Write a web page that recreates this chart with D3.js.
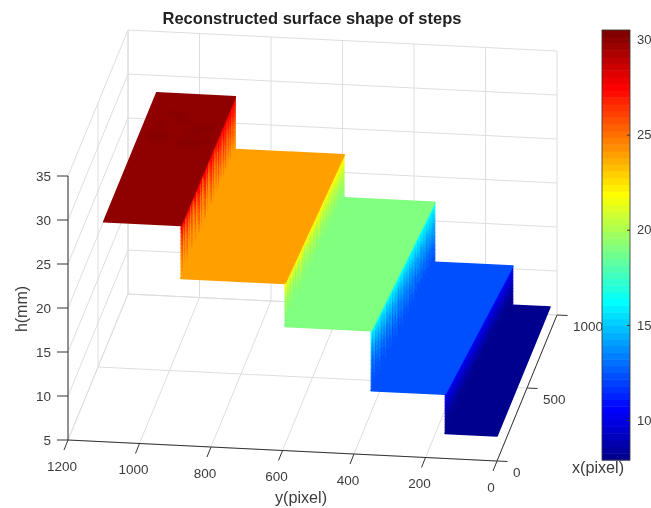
<!DOCTYPE html>
<html><head><meta charset="utf-8">
<script src="https://cdn.jsdelivr.net/npm/d3@7"></script>
<style>html,body{margin:0;background:#fff}svg{display:block}text{font-family:"Liberation Sans",Arial,sans-serif}</style>
</head><body><svg id="c" width="651" height="508"></svg>
<script>
const yTicks=[0,200,400,600,800,1000,1200];
const xTicks=[0,500,1000];
const zTicks=[5,10,15,20,25,30,35];
const cbTicks=[10,15,20,25,30];
const cbDomain=[7.9,30.5];
const stepStart=[1100,884,593,352,145];
const stepEnd=[884,593,352,145,0];
const stepEndBack=[880,576,322,104,0];
const stepStartBack=[1100,880,576,322,104];
const stepHeight=[30,24,19.1,12.3,7.85];
const surfaceXMax=883;
// colour value reached at the top of each riser
const riserPeak=[28,22.2,16.4,10.6];
// how long each riser column stays near the lower colour, read along x (front to back)
const riserSpikes=[
 [3,1.2,5,1.6,7,1,4,2,6,1.1,8,2.5,1.2,5,1.6,.8,4,1.2,7,1.6,.8,3.4,1.4,6,1.8,.8,2.6,1.1,5,1,3.4,.8,2,1,3.4,.9,1.8,.8,2.6,1,1.6,.9,2,1,1.8],
 [3.5,1.6,4.5,2,5.5,1.5,4,2.4,5,1.6,5.5,2,1.5,4.4,1.8,5,1.5,3.6,1.7,4.4,1.8,1.5,3.6,1.6,4,1.7,1.4,3.2,1.6,3.6,1.5,3,1.5,3,1.4,2.6,1.4,2.8,1.5,2.4,1.4,2.3,1.4,2.2,1.5],
 [1.6,2.8,1.4,3.2,1.8,2.6,1.3,3,1.8,2.4,1.3,2.8,1.6,2.4,1.2,2.8,1.5,2.2,1.2,2.6,1.6,2.1,1.3,2.4,1.6,2,1.3,2.3,1.5,2,1.3,2.2,1.5,1.9,1.4,2.1,1.5,1.8,1.4,2,1.5,1.8,1.4,1.8,1.5],
 [1.6,1.8,1.5,1.8,1.6,1.9,1.5,1.7,1.6,1.8,1.5,1.7,1.6,1.8,1.5,1.7,1.6,1.8,1.5,1.7,1.6,1.8,1.5,1.7,1.6,1.8,1.5,1.7,1.6,1.8,1.5,1.7,1.6,1.8,1.5,1.7,1.6,1.8,1.5,1.7,1.6,1.8,1.5,1.7,1.6]
];
// darker blotches on the top step: [yFrom,yTo,xFrom,xTo,h]
const topPatches=[
 [1075,1020,560,620,30.4],[1010,985,690,740,30.4],[1040,1000,730,760,30.4],[990,930,530,590,30.4],
 [975,930,610,640,30.4],[960,905,640,680,30.4],[1060,1040,640,700,30.4],[930,900,560,600,30.4]
];

const svg=d3.select("#c");
const defs=svg.append("defs");
defs.append("filter").attr("id","soft").attr("x","-5%").attr("y","-5%").attr("width","110%").attr("height","110%")
  .append("feGaussianBlur").attr("stdDeviation",0.55);
defs.append("filter").attr("id","softer").attr("x","-20%").attr("y","-20%").attr("width","140%").attr("height","140%")
  .append("feGaussianBlur").attr("stdDeviation",1.3);
const root=svg.append("g").attr("filter","url(#soft)");

// oblique projection built from linear scales
const ox=d3.scaleLinear().domain([0,1200]).range([497,68]);
const oyY=d3.scaleLinear().domain([0,1200]).range([0,-21]);
const px=d3.scaleLinear().domain([0,1000]).range([0,60]);
const pyX=d3.scaleLinear().domain([0,1000]).range([0,-146]);
const pz=d3.scaleLinear().domain([5,35]).range([461,197]);
const P=(y,x,z)=>[ox(y)+px(x),pz(z)+oyY(y)+pyX(x)];
const line=d3.line();
const grid="#dedede",axisCol="#333",txt="#3c3c3c";

function seg(p,q,c,w){root.append("path").attr("d",line([p,q])).attr("stroke",c).attr("stroke-width",w).attr("fill","none");}

// grid: floor, back wall, side wall
yTicks.forEach(y=>{seg(P(y,0,5),P(y,1000,5),grid,1);seg(P(y,1000,5),P(y,1000,35),grid,1);});
xTicks.forEach(x=>{seg(P(0,x,5),P(1200,x,5),grid,1);seg(P(1200,x,5),P(1200,x,35),grid,1);});
zTicks.forEach(z=>{seg(P(0,1000,z),P(1200,1000,z),grid,1);seg(P(1200,0,z),P(1200,1000,z),grid,1);});

// jet colormap, 64 levels
const clamp=v=>Math.max(0,Math.min(1,v));
const jetLevels=d3.range(64).map(i=>{const t=(i+1)/64;
  return d3.rgb(255*clamp(Math.min(4*t-1.5,-4*t+4.5)),255*clamp(Math.min(4*t-.5,-4*t+3.5)),255*clamp(Math.min(4*t+.5,-4*t+2.5))).formatHex();});
const jet=d3.scaleQuantize().domain(cbDomain).range(jetLevels);

function quad(g,a,b,c,d,col,w){g.append("path").attr("d",line([a,b,c,d])+"Z").attr("fill",col).attr("stroke",col).attr("stroke-width",w).attr("stroke-linejoin","round");}

// surface, far step first
stepHeight.forEach((h,i)=>{
  const y0=stepStart[i],y1=stepEnd[i],y0b=stepStartBack[i],y1b=stepEndBack[i];
  const edge=d3.scaleLinear().domain([0,surfaceXMax]).range([y1,y1b]);
  if(i<stepHeight.length-1){
    // riser first so the step's top edge stays crisp over it
  }
  quad(root,P(y0,0,h),P(y1,0,h),P(y1b,surfaceXMax,h),P(y0b,surfaceXMax,h),jet(h),1.6);
  if(i===0){
    const pg=root.append("g").attr("filter","url(#softer)").attr("opacity",0.5);
    topPatches.forEach(p=>quad(pg,P(p[0],p[2],h),P(p[1],p[2],h),P(p[1],p[3],h),P(p[0],p[3],h),jet(p[4]),0.5));
  }
  if(i<stepHeight.length-1){
    const low=stepHeight[i+1],peak=riserPeak[i],spikes=riserSpikes[i],n=spikes.length,dx=surfaceXMax/n,levels=d3.range(0,1.0001,1/14);
    spikes.forEach((g,k)=>{
      const xa=k*dx,xb=(k+1)*dx,ya=edge(xa),yb=edge(xb);
      levels.slice(0,-1).forEach((f,m)=>{
        const f2=levels[m+1],za=low+(h-low)*f,zb=low+(h-low)*f2;
        const v=low+(peak-low)*Math.pow((f+f2)/2,g);
        quad(root,P(ya,xa,za),P(yb,xb,za),P(yb,xb,zb),P(ya,xa,zb),jet(v),0.9);
      });
    });
    // redraw the step's face edge over the riser strokes
    root.append("path").attr("d",line([P(y1,0,h),P(y1b,surfaceXMax,h)])).attr("stroke",jet(h)).attr("stroke-width",1.6).attr("fill","none");
  }
});

// axes
seg(P(1200,0,5),P(1200,0,35),axisCol,1);
seg(P(1200,0,5),P(0,0,5),axisCol,1);
seg(P(0,0,5),P(0,1000,5),axisCol,1);
zTicks.forEach(z=>{const p=P(1200,0,z);seg(p,[p[0]-11,p[1]],axisCol,1);
  root.append("text").attr("x",p[0]-17).attr("y",p[1]+0.5).attr("dy",".35em").attr("text-anchor","end").attr("font-size",13.5).attr("fill",txt).text(z);});
yTicks.forEach(y=>{const p=P(y,0,5);seg(p,[p[0]-4,p[1]+10],axisCol,1);
  root.append("text").attr("x",p[0]-6).attr("y",p[1]+26).attr("dy",".35em").attr("text-anchor","middle").attr("font-size",13.5).attr("fill",txt).text(y);});
xTicks.forEach(x=>{const p=P(0,x,5);seg(p,[p[0]+10.5,p[1]+0.5],axisCol,1);
  root.append("text").attr("x",p[0]+16).attr("y",p[1]+11).attr("dy",".35em").attr("text-anchor","start").attr("font-size",13.5).attr("fill",txt).text(x);});

// titles
root.append("text").attr("x",312).attr("y",18).attr("dy",".35em").attr("text-anchor","middle").attr("font-size",16.5).attr("font-weight","bold").attr("fill","#222").text("Reconstructed surface shape of steps");
root.append("text").attr("x",301).attr("y",497).attr("dy",".35em").attr("text-anchor","middle").attr("font-size",16.2).attr("fill",txt).text("y(pixel)");
root.append("text").attr("x",598).attr("y",467).attr("dy",".35em").attr("text-anchor","middle").attr("font-size",16.2).attr("fill",txt).text("x(pixel)");
root.append("text").attr("transform","translate(21,309) rotate(-90)").attr("dy",".35em").attr("text-anchor","middle").attr("font-size",16).attr("fill",txt).text("h(mm)");

// colorbar
const cbX=602,cbW=28;
const cbY=d3.scaleLinear().domain(cbDomain).range([460,30]);
const bandW=(cbDomain[1]-cbDomain[0])/64;
const cb=root.append("g");
cb.selectAll("rect").data(jetLevels).join("rect")
  .attr("x",cbX).attr("width",cbW)
  .attr("y",(d,i)=>cbY(cbDomain[0]+(i+1)*bandW))
  .attr("height",(d,i)=>cbY(cbDomain[0]+i*bandW)-cbY(cbDomain[0]+(i+1)*bandW)+0.5)
  .attr("fill",d=>d);
cb.append("rect").attr("x",cbX).attr("y",30).attr("width",cbW).attr("height",430).attr("fill","none").attr("stroke","#333").attr("stroke-width",0.8);
const axisG=root.append("g").attr("transform",`translate(${cbX+cbW},0)`)
  .call(d3.axisRight(cbY).tickValues(cbTicks).tickSizeInner(-3).tickSizeOuter(0).tickPadding(7));
axisG.select(".domain").remove();
axisG.selectAll("line").attr("stroke","#333");
axisG.selectAll("text").attr("font-size",13).attr("fill",txt).attr("font-family",'"Liberation Sans",Arial,sans-serif');
</script></body></html>
